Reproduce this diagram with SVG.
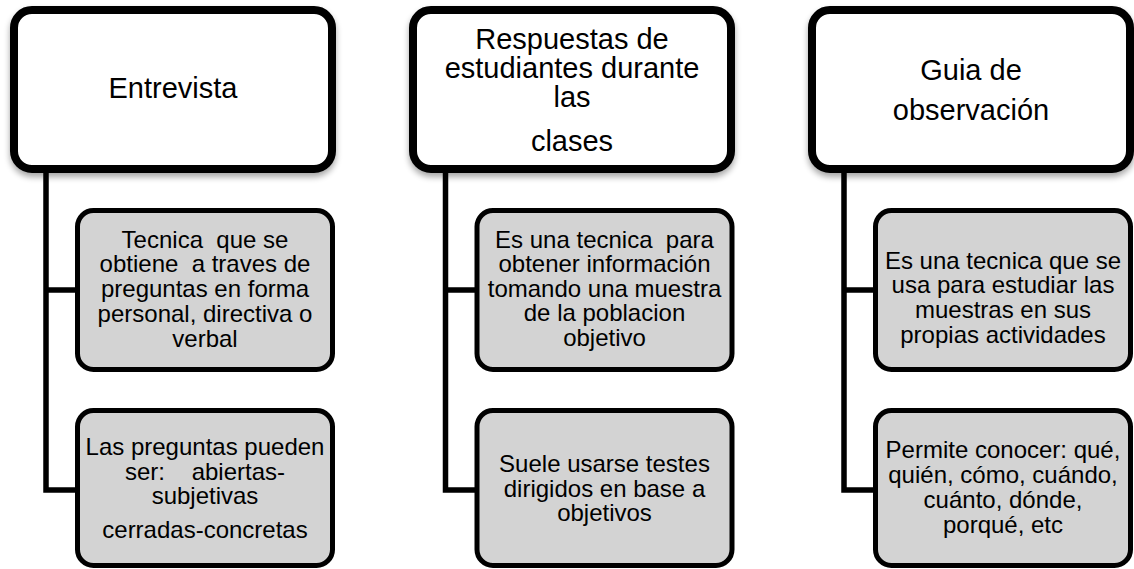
<svg xmlns="http://www.w3.org/2000/svg" width="1134" height="569" viewBox="0 0 1134 569">
<defs>
<filter id="sh" x="-10%" y="-10%" width="120%" height="130%">
<feGaussianBlur in="SourceAlpha" stdDeviation="3"/>
<feOffset dx="0" dy="4" result="b"/>
<feComponentTransfer><feFuncA type="linear" slope="0.35"/></feComponentTransfer>
<feMerge><feMergeNode/><feMergeNode in="SourceGraphic"/></feMerge>
</filter>
</defs>
<style>
.top{fill:#fff;stroke:#000;stroke-width:8}
.child{fill:#d3d3d3;stroke:#000;stroke-width:5}
.conn{fill:none;stroke:#000;stroke-width:5.5;stroke-linejoin:miter}
text{font-family:"Liberation Sans",Arial,sans-serif;fill:#000;text-anchor:middle}
.tt{font-size:29px}
.ct{font-size:24px}
</style>
<g id="connectors">
<path class="conn" d="M46,173 V290 H78 M46,287 V490 H78"/>
<path class="conn" d="M445.5,173 V290 H478 M445.5,287 V490 H478"/>
<path class="conn" d="M844,173 V290 H876 M844,287 V490 H876"/>
</g>
<g id="n1">
<rect class="top" x="14" y="10" width="318" height="159" rx="18" filter="url(#sh)"/>
<text class="tt" x="173" y="98">Entrevista</text>
</g>
<g id="n2">
<rect class="top" x="413" y="10" width="318" height="159" rx="18" filter="url(#sh)"/>
<text class="tt" x="572" y="49">Respuestas de</text>
<text class="tt" x="572" y="78">estudiantes durante</text>
<text class="tt" x="572" y="107">las</text>
<text class="tt" x="572" y="151">clases</text>
</g>
<g id="n3">
<rect class="top" x="812" y="10" width="318" height="159" rx="18" filter="url(#sh)"/>
<text class="tt" x="971" y="80">Guia de</text>
<text class="tt" x="971" y="120">observación</text>
</g>
<g id="n1a">
<rect class="child" x="77.5" y="210.5" width="255" height="159" rx="16"/>
<text class="ct" x="205" y="248" xml:space="preserve">Tecnica  que se</text>
<text class="ct" x="205" y="272" xml:space="preserve">obtiene  a traves de</text>
<text class="ct" x="205" y="297">preguntas en forma</text>
<text class="ct" x="205" y="322">personal, directiva o</text>
<text class="ct" x="205" y="347">verbal</text>
</g>
<g id="n1b">
<rect class="child" x="77.5" y="410.5" width="255" height="155" rx="16"/>
<text class="ct" x="205" y="455">Las preguntas pueden</text>
<text class="ct" x="205" y="480" xml:space="preserve">ser:    abiertas-</text>
<text class="ct" x="205" y="504">subjetivas</text>
<text class="ct" x="205" y="538">cerradas-concretas</text>
</g>
<g id="n2a">
<rect class="child" x="477" y="210.5" width="255" height="159" rx="16"/>
<text class="ct" x="604.5" y="248" xml:space="preserve">Es una tecnica  para</text>
<text class="ct" x="604.5" y="272">obtener información</text>
<text class="ct" x="604.5" y="297">tomando una muestra</text>
<text class="ct" x="604.5" y="321">de la poblacion</text>
<text class="ct" x="604.5" y="346">objetivo</text>
</g>
<g id="n2b">
<rect class="child" x="477" y="410.5" width="255" height="155" rx="16"/>
<text class="ct" x="604.5" y="472">Suele usarse testes</text>
<text class="ct" x="604.5" y="497">dirigidos en base a</text>
<text class="ct" x="604.5" y="521">objetivos</text>
</g>
<g id="n3a">
<rect class="child" x="875.5" y="210.5" width="255" height="159" rx="16"/>
<text class="ct" x="1003" y="269">Es una tecnica que se</text>
<text class="ct" x="1003" y="293">usa para estudiar las</text>
<text class="ct" x="1003" y="318">muestras en sus</text>
<text class="ct" x="1003" y="343">propias actividades</text>
</g>
<g id="n3b">
<rect class="child" x="875.5" y="410.5" width="255" height="155" rx="16"/>
<text class="ct" x="1003" y="458">Permite conocer: qué,</text>
<text class="ct" x="1003" y="483">quién, cómo, cuándo,</text>
<text class="ct" x="1003" y="508">cuánto, dónde,</text>
<text class="ct" x="1003" y="533">porqué, etc</text>
</g>
</svg>
